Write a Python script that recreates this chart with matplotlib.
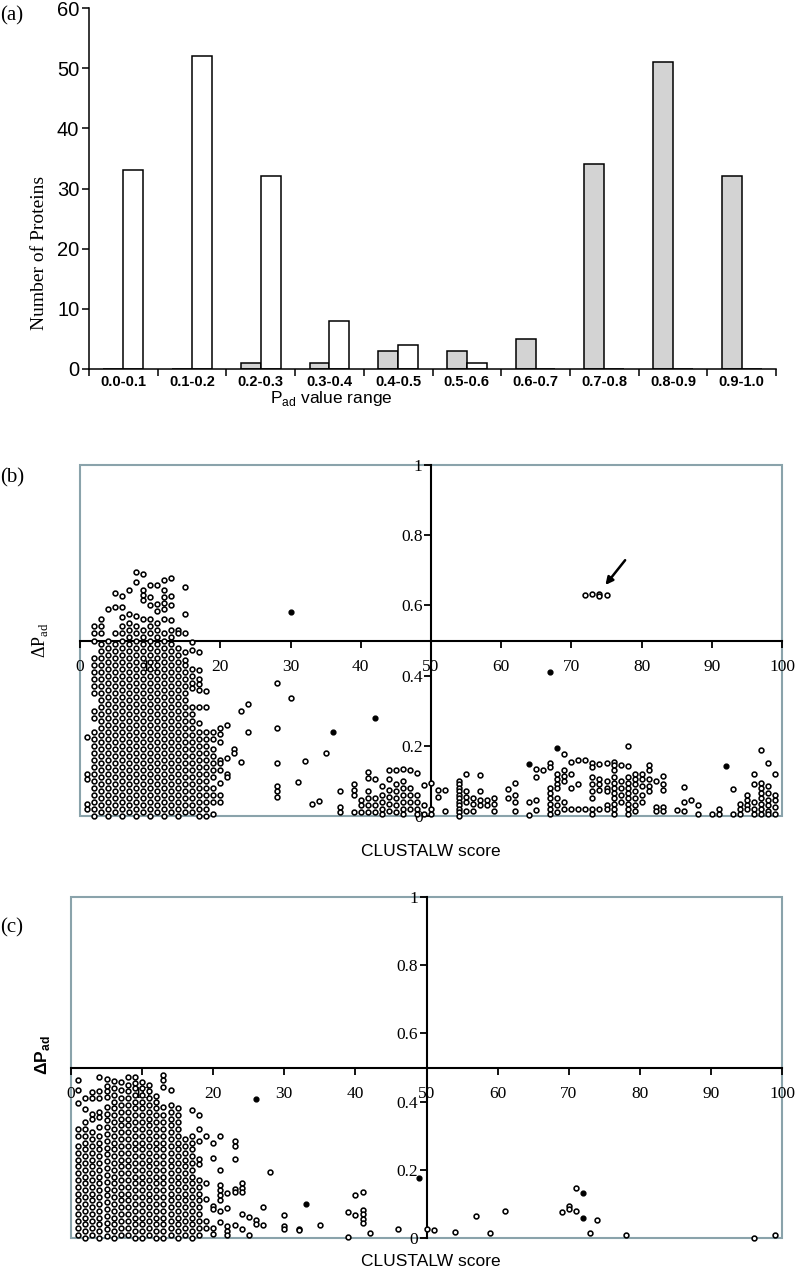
import matplotlib

matplotlib.use("Agg")
import matplotlib.pyplot as plt
from matplotlib.patches import Rectangle

plt.rcParams["font.family"] = ["Liberation Serif", "DejaVu Serif"]
plt.rcParams["mathtext.fontset"] = "custom"
plt.rcParams["mathtext.rm"] = "Liberation Serif"
plt.rcParams["mathtext.sf"] = "Liberation Sans"
plt.rcParams["mathtext.bf"] = "Liberation Sans:bold"

SANS = ["Liberation Sans", "DejaVu Sans"]
BOX_COLOUR = "#8aa3ab"
FIG_W, FIG_H = 798, 1280

# ---- panel (a): histogram of P_ad values ----
pad_ranges = ["0.0-0.1", "0.1-0.2", "0.2-0.3", "0.3-0.4", "0.4-0.5",
              "0.5-0.6", "0.6-0.7", "0.7-0.8", "0.8-0.9", "0.9-1.0"]
grey_counts = [0, 0, 1, 1, 3, 3, 5, 34, 51, 32]
white_counts = [33, 52, 32, 8, 4, 1, 0, 0, 0, 0]

# ---- panel (b): CLUSTALW score vs delta P_ad ----
b_scores = [1, 2, 3, 4, 5, 6, 7, 8, 9, 10, 11, 12, 13, 14, 15, 16, 17, 18, 19, 20,
            21, 22, 23, 24, 28, 30, 31, 32, 33, 34, 35, 37, 39, 40, 41, 42, 43, 44,
            45, 46, 47, 48, 49, 50, 51, 52, 54, 55, 56, 57, 58, 59, 61, 62, 64, 65,
            66, 67, 68, 69, 70, 71, 72, 73, 74, 75, 76, 77, 78, 79, 80, 81, 82, 83,
            85, 86, 87, 88, 90, 91, 93, 94, 95, 96, 97, 98, 99]
b_deltas = [
    [0.225, 0.12, 0.105, 0.035, 0.02],
    [0.54, 0.52, 0.50, 0.45, 0.43, 0.41, 0.39, 0.37, 0.35, 0.30, 0.28, 0.24, 0.22, 0.20,
     0.18, 0.16, 0.14, 0.12, 0.10, 0.08, 0.06, 0.04, 0.02, 0.00],
    [0.56, 0.54, 0.52, 0.49, 0.47, 0.45, 0.43, 0.41, 0.39, 0.37, 0.35, 0.33, 0.31, 0.29,
     0.27, 0.25, 0.23, 0.21, 0.19, 0.17, 0.15, 0.13, 0.11, 0.09, 0.07, 0.05, 0.03, 0.01],
    [0.59, 0.50, 0.48, 0.46, 0.44, 0.42, 0.40, 0.38, 0.36, 0.34, 0.32, 0.30, 0.28, 0.26,
     0.24, 0.22, 0.20, 0.18, 0.16, 0.14, 0.12, 0.10, 0.08, 0.06, 0.04, 0.02, 0.00],
    [0.635, 0.595, 0.52, 0.49, 0.47, 0.45, 0.43, 0.41, 0.39, 0.37, 0.35, 0.33, 0.31, 0.29,
     0.27, 0.25, 0.23, 0.21, 0.19, 0.17, 0.15, 0.13, 0.11, 0.09, 0.07, 0.05, 0.03, 0.01],
    [0.627, 0.595, 0.567, 0.54, 0.52, 0.50, 0.48, 0.46, 0.44, 0.42, 0.40, 0.38, 0.36, 0.34,
     0.32, 0.30, 0.28, 0.26, 0.24, 0.22, 0.20, 0.18, 0.16, 0.14, 0.12, 0.10, 0.08, 0.06,
     0.04, 0.02, 0.00],
    [0.645, 0.575, 0.55, 0.53, 0.51, 0.49, 0.47, 0.45, 0.43, 0.41, 0.39, 0.37, 0.35, 0.33,
     0.31, 0.29, 0.27, 0.25, 0.23, 0.21, 0.19, 0.17, 0.15, 0.13, 0.11, 0.09, 0.07, 0.05,
     0.03, 0.01],
    [0.695, 0.667, 0.57, 0.54, 0.52, 0.50, 0.48, 0.46, 0.44, 0.42, 0.40, 0.38, 0.36, 0.34,
     0.32, 0.30, 0.28, 0.26, 0.24, 0.22, 0.20, 0.18, 0.16, 0.14, 0.12, 0.10, 0.08, 0.06,
     0.04, 0.02, 0.00],
    [0.69, 0.645, 0.63, 0.615, 0.56, 0.53, 0.51, 0.49, 0.47, 0.45, 0.43, 0.41, 0.39, 0.37,
     0.35, 0.33, 0.31, 0.29, 0.27, 0.25, 0.23, 0.21, 0.19, 0.17, 0.15, 0.13, 0.11, 0.09,
     0.07, 0.05, 0.03, 0.01],
    [0.658, 0.624, 0.60, 0.56, 0.54, 0.52, 0.50, 0.48, 0.46, 0.44, 0.42, 0.40, 0.38, 0.36,
     0.34, 0.32, 0.30, 0.28, 0.26, 0.24, 0.22, 0.20, 0.18, 0.16, 0.14, 0.12, 0.10, 0.08,
     0.06, 0.04, 0.02, 0.00],
    [0.658, 0.603, 0.585, 0.55, 0.53, 0.51, 0.49, 0.47, 0.45, 0.43, 0.41, 0.39, 0.37, 0.35,
     0.33, 0.31, 0.29, 0.27, 0.25, 0.23, 0.21, 0.19, 0.17, 0.15, 0.13, 0.11, 0.09, 0.07,
     0.05, 0.03, 0.01],
    [0.672, 0.644, 0.624, 0.607, 0.59, 0.56, 0.52, 0.50, 0.48, 0.46, 0.44, 0.42, 0.40, 0.38,
     0.36, 0.34, 0.32, 0.30, 0.28, 0.26, 0.24, 0.22, 0.20, 0.18, 0.16, 0.14, 0.12, 0.10,
     0.08, 0.06, 0.04, 0.02, 0.00],
    [0.678, 0.627, 0.60, 0.558, 0.53, 0.51, 0.49, 0.47, 0.45, 0.43, 0.41, 0.39, 0.37, 0.35,
     0.33, 0.31, 0.29, 0.27, 0.25, 0.23, 0.21, 0.19, 0.17, 0.15, 0.13, 0.11, 0.09, 0.07,
     0.05, 0.03, 0.01],
    [0.53, 0.52, 0.48, 0.46, 0.44, 0.42, 0.40, 0.38, 0.36, 0.34, 0.32, 0.30, 0.28, 0.26,
     0.24, 0.22, 0.20, 0.18, 0.16, 0.14, 0.12, 0.10, 0.08, 0.06, 0.04, 0.02, 0.00],
    [0.652, 0.575, 0.52, 0.467, 0.445, 0.43, 0.41, 0.39, 0.37, 0.35, 0.33, 0.31, 0.29, 0.27,
     0.25, 0.23, 0.21, 0.19, 0.17, 0.15, 0.13, 0.11, 0.09, 0.07, 0.05, 0.03, 0.01],
    [0.496, 0.473, 0.42, 0.40, 0.38, 0.365, 0.31, 0.29, 0.27, 0.25, 0.23, 0.21, 0.19, 0.17,
     0.15, 0.13, 0.11, 0.09, 0.07, 0.05, 0.03, 0.01],
    [0.467, 0.415, 0.39, 0.375, 0.36, 0.31, 0.265, 0.24, 0.22, 0.20, 0.18, 0.16, 0.14, 0.12,
     0.10, 0.08, 0.06, 0.04, 0.02, 0.00],
    [0.356, 0.31, 0.24, 0.22, 0.20, 0.18, 0.16, 0.14, 0.12, 0.10, 0.08, 0.06, 0.04, 0.02,
     0.00],
    [0.24, 0.22, 0.19, 0.17, 0.15, 0.13, 0.11, 0.08, 0.06, 0.04, 0.005],
    [0.25, 0.235, 0.21, 0.16, 0.15, 0.13, 0.095, 0.06, 0.04],
    [0.26, 0.165, 0.12, 0.11],
    [0.19, 0.18],
    [0.30, 0.155],
    [0.32, 0.24],
    [0.38, 0.25, 0.15, 0.085, 0.07, 0.055],
    [0.335],
    [0.097],
    [0.157],
    [0.034],
    [0.043],
    [0.18],
    [0.07, 0.025, 0.01],
    [0.09, 0.075, 0.06, 0.01],
    [0.045, 0.03, 0.01],
    [0.125, 0.108, 0.07, 0.05, 0.03, 0.01],
    [0.105, 0.05, 0.03, 0.01],
    [0.085, 0.06, 0.04, 0.02, 0.005],
    [0.13, 0.105, 0.075, 0.055, 0.035, 0.015],
    [0.13, 0.09, 0.07, 0.05, 0.03, 0.01],
    [0.134, 0.10, 0.08, 0.06, 0.04, 0.02, 0.005],
    [0.13, 0.08, 0.06, 0.04, 0.02],
    [0.122, 0.06, 0.04, 0.02, 0.005],
    [0.088, 0.03, 0.005],
    [0.093, 0.02, 0.005],
    [0.074, 0.055],
    [0.074, 0.015],
    [0.10, 0.09, 0.08, 0.07, 0.06, 0.05, 0.04, 0.03, 0.02, 0.01, 0.00],
    [0.12, 0.07, 0.055, 0.04, 0.015],
    [0.05, 0.035, 0.015],
    [0.118, 0.07, 0.045, 0.03],
    [0.045, 0.03],
    [0.05, 0.035, 0.015],
    [0.078, 0.05],
    [0.093, 0.06, 0.04, 0.015],
    [0.04, 0.003],
    [0.135, 0.11, 0.046, 0.017],
    [0.13],
    [0.15, 0.14, 0.08, 0.065, 0.05, 0.035, 0.02, 0.005],
    [0.12, 0.105, 0.09, 0.08, 0.05, 0.03, 0.01],
    [0.178, 0.13, 0.115, 0.10, 0.04, 0.02],
    [0.155, 0.12, 0.08, 0.02],
    [0.16, 0.09, 0.02],
    [0.63, 0.16, 0.02],
    [0.632, 0.15, 0.14, 0.11, 0.09, 0.07, 0.05, 0.02, 0.005],
    [0.632, 0.626, 0.148, 0.105, 0.09, 0.075, 0.02],
    [0.63, 0.15, 0.10, 0.08, 0.07, 0.03, 0.02],
    [0.155, 0.145, 0.13, 0.11, 0.095, 0.08, 0.065, 0.05, 0.035, 0.02, 0.005],
    [0.145, 0.10, 0.08, 0.06, 0.04],
    [0.20, 0.143, 0.11, 0.095, 0.08, 0.065, 0.05, 0.035, 0.02, 0.005],
    [0.12, 0.105, 0.09, 0.07, 0.05, 0.03, 0.015],
    [0.12, 0.105, 0.085, 0.06, 0.04],
    [0.145, 0.13, 0.105, 0.085, 0.07],
    [0.10, 0.025, 0.015],
    [0.113, 0.09, 0.075, 0.025, 0.015],
    [0.016],
    [0.083, 0.04, 0.015],
    [0.045],
    [0.03, 0.005],
    [0.005],
    [0.02, 0.005],
    [0.076, 0.005],
    [0.035, 0.02, 0.005],
    [0.06, 0.045, 0.03, 0.02],
    [0.12, 0.09, 0.04, 0.02, 0.005],
    [0.188, 0.095, 0.08, 0.065, 0.05, 0.035, 0.02, 0.005],
    [0.15, 0.085, 0.065, 0.045, 0.03, 0.015, 0.005],
    [0.12, 0.06, 0.045, 0.025, 0.005],
]
b_dot_scores = [30, 36, 42, 64, 67, 68, 92]
b_dot_deltas = [0.58, 0.24, 0.28, 0.148, 0.41, 0.193, 0.143]

# ---- panel (c) ----
c_scores = [1, 2, 3, 4, 5, 6, 7, 8, 9, 10, 11, 12, 13, 14, 15, 16, 17, 18, 19, 20,
            21, 22, 23, 24, 25, 26, 27, 28, 30, 32, 35, 39, 40, 41, 42, 46, 50, 51,
            54, 57, 59, 61, 69, 70, 71, 73, 74, 78, 96, 99]
c_deltas = [
    [0.463, 0.434, 0.395, 0.32, 0.30, 0.27, 0.25, 0.23, 0.21, 0.19, 0.17, 0.15, 0.13, 0.11,
     0.09, 0.07, 0.05, 0.03, 0.01],
    [0.41, 0.377, 0.34, 0.32, 0.30, 0.28, 0.26, 0.24, 0.22, 0.20, 0.18, 0.16, 0.14, 0.12,
     0.10, 0.08, 0.06, 0.04, 0.02, 0.00],
    [0.428, 0.41, 0.365, 0.35, 0.31, 0.29, 0.27, 0.25, 0.23, 0.21, 0.19, 0.17, 0.15, 0.13,
     0.11, 0.09, 0.07, 0.05, 0.03, 0.01],
    [0.473, 0.43, 0.41, 0.37, 0.355, 0.325, 0.30, 0.28, 0.26, 0.24, 0.22, 0.20, 0.18, 0.16,
     0.14, 0.12, 0.10, 0.08, 0.06, 0.04, 0.02, 0.00],
    [0.467, 0.447, 0.43, 0.413, 0.383, 0.365, 0.345, 0.325, 0.305, 0.285, 0.265, 0.245,
     0.225, 0.205, 0.185, 0.165, 0.145, 0.125, 0.105, 0.085, 0.065, 0.045, 0.025, 0.005],
    [0.46, 0.44, 0.42, 0.40, 0.38, 0.36, 0.34, 0.32, 0.30, 0.28, 0.26, 0.24, 0.22, 0.20,
     0.18, 0.16, 0.14, 0.12, 0.10, 0.08, 0.06, 0.04, 0.02, 0.00],
    [0.457, 0.433, 0.41, 0.39, 0.37, 0.35, 0.33, 0.31, 0.29, 0.27, 0.25, 0.23, 0.21, 0.19,
     0.17, 0.15, 0.13, 0.11, 0.09, 0.07, 0.05, 0.03, 0.01],
    [0.473, 0.45, 0.43, 0.41, 0.39, 0.37, 0.35, 0.33, 0.31, 0.29, 0.27, 0.25, 0.23, 0.21,
     0.19, 0.17, 0.15, 0.13, 0.11, 0.09, 0.07, 0.05, 0.03, 0.01],
    [0.473, 0.455, 0.44, 0.42, 0.40, 0.38, 0.36, 0.34, 0.32, 0.30, 0.28, 0.26, 0.24, 0.22,
     0.20, 0.18, 0.16, 0.14, 0.12, 0.10, 0.08, 0.06, 0.04, 0.02, 0.00],
    [0.457, 0.44, 0.42, 0.40, 0.38, 0.36, 0.34, 0.32, 0.30, 0.28, 0.26, 0.24, 0.22, 0.20,
     0.18, 0.16, 0.14, 0.12, 0.10, 0.08, 0.06, 0.04, 0.02, 0.00],
    [0.45, 0.43, 0.41, 0.39, 0.37, 0.35, 0.33, 0.31, 0.29, 0.27, 0.25, 0.23, 0.21, 0.19,
     0.17, 0.15, 0.13, 0.11, 0.09, 0.07, 0.05, 0.03, 0.01],
    [0.417, 0.40, 0.38, 0.36, 0.34, 0.32, 0.30, 0.28, 0.26, 0.24, 0.22, 0.20, 0.18, 0.16,
     0.14, 0.12, 0.10, 0.08, 0.06, 0.04, 0.02, 0.00],
    [0.478, 0.463, 0.443, 0.383, 0.36, 0.34, 0.32, 0.30, 0.28, 0.26, 0.24, 0.22, 0.20, 0.18,
     0.16, 0.14, 0.12, 0.10, 0.08, 0.06, 0.04, 0.02, 0.00],
    [0.433, 0.39, 0.37, 0.35, 0.33, 0.31, 0.29, 0.27, 0.25, 0.23, 0.21, 0.19, 0.17, 0.15,
     0.13, 0.11, 0.09, 0.07, 0.05, 0.03, 0.01],
    [0.38, 0.36, 0.34, 0.32, 0.30, 0.28, 0.26, 0.24, 0.22, 0.20, 0.18, 0.16, 0.14, 0.12,
     0.10, 0.08, 0.06, 0.04, 0.02, 0.00],
    [0.29, 0.27, 0.25, 0.23, 0.21, 0.19, 0.17, 0.15, 0.13, 0.11, 0.09, 0.07, 0.05, 0.03,
     0.01],
    [0.375, 0.30, 0.28, 0.26, 0.24, 0.22, 0.20, 0.18, 0.16, 0.14, 0.12, 0.10, 0.08, 0.06,
     0.04, 0.02, 0.00],
    [0.362, 0.32, 0.283, 0.233, 0.218, 0.17, 0.15, 0.13, 0.11, 0.09, 0.07, 0.05, 0.03, 0.01],
    [0.30, 0.16, 0.115, 0.05, 0.03],
    [0.28, 0.235, 0.095, 0.086, 0.03, 0.013],
    [0.30, 0.20, 0.155, 0.14, 0.125, 0.11, 0.08, 0.047],
    [0.133, 0.088, 0.034, 0.02, 0.008],
    [0.283, 0.27, 0.232, 0.145, 0.135, 0.037],
    [0.16, 0.148, 0.135, 0.07, 0.027],
    [0.062, 0.008],
    [0.052, 0.042],
    [0.09, 0.037],
    [0.193],
    [0.067, 0.034, 0.025],
    [0.027, 0.022],
    [0.037],
    [0.076, 0.003],
    [0.126, 0.067],
    [0.136, 0.083, 0.07, 0.057, 0.044],
    [0.016],
    [0.026],
    [0.025],
    [0.024],
    [0.018],
    [0.065],
    [0.015],
    [0.08],
    [0.075],
    [0.093, 0.085],
    [0.148, 0.08],
    [0.015],
    [0.052],
    [0.008],
    [0.001],
    [0.008],
]
c_dot_scores = [26, 33, 49, 72, 72]
c_dot_deltas = [0.407, 0.10, 0.177, 0.133, 0.058]

score_ticks = [0, 10, 20, 30, 40, 50, 60, 70, 80, 90, 100]
delta_ticks = [0, 0.2, 0.4, 0.6, 0.8, 1]
delta_tick_labels = ["0", "0.2", "0.4", "0.6", "0.8", "1"]


def axes_rect(left, top, right, bottom):
    return [left / FIG_W, 1 - bottom / FIG_H, (right - left) / FIG_W, (bottom - top) / FIG_H]


def draw_histogram(fig):
    ax = fig.add_axes(axes_rect(89, 8, 776, 369))
    positions = list(range(len(pad_ranges)))
    ax.bar([p - 0.29 for p in positions], grey_counts, width=0.29, align="edge",
           color="#d3d3d3", edgecolor="black", linewidth=1.1)
    ax.bar(positions, white_counts, width=0.29, align="edge",
           color="white", edgecolor="black", linewidth=1.1)

    ax.set_xlim(-0.5, len(pad_ranges) - 0.5)
    ax.set_ylim(0, 60)
    ax.spines[["top", "right"]].set_visible(False)
    for side in ("left", "bottom"):
        ax.spines[side].set_linewidth(1.1)

    ax.tick_params(axis="x", which="major", length=0, pad=4)
    ax.tick_params(axis="x", which="minor", length=5, width=1.1, direction="out")
    ax.tick_params(axis="y", length=5, width=1.1, direction="out", pad=2)
    ax.set_yticks(range(0, 61, 10), labels=[str(v) for v in range(0, 61, 10)],
                  family=SANS, fontsize=14.5)
    ax.set_xticks(positions, labels=pad_ranges, family=SANS, fontweight="bold",
                  fontsize=10.5)
    ax.set_xticks([p - 0.5 for p in positions] + [len(pad_ranges) - 0.5], minor=True)

    fig.text(40 / FIG_W, 1 - 253 / FIG_H, "Number of Proteins", rotation=90,
             ha="center", va="center", fontsize=14)
    fig.text(331 / FIG_W, 1 - 399 / FIG_H, r"$\mathsf{P}_{\mathsf{ad}}$ value range",
             ha="center", va="center", fontsize=12.5, family=SANS)
    fig.text(0, 1 - 16 / FIG_H, "(a)", ha="left", va="center", fontsize=15)


def draw_scatter(fig, rect, scores, deltas, dot_scores, dot_deltas):
    ax = fig.add_axes(rect)
    xs = [s for s, col in zip(scores, deltas) for _ in col]
    ys = [v for col in deltas for v in col]
    ax.scatter(xs, ys, s=12, facecolors="white", edgecolors="black",
               linewidths=1.15, clip_on=False, zorder=3)
    ax.scatter(dot_scores, dot_deltas, s=12, color="black", clip_on=False, zorder=3)

    ax.set_xlim(0, 100)
    ax.set_ylim(0, 1)
    ax.add_patch(Rectangle((0, 0), 1, 1, transform=ax.transAxes, fill=False,
                           edgecolor=BOX_COLOUR, linewidth=1.5, zorder=1, clip_on=False))
    ax.spines[["top", "right"]].set_visible(False)
    ax.spines["left"].set_position(("data", 50))
    ax.spines["bottom"].set_position(("data", 0.5))
    for side in ("left", "bottom"):
        ax.spines[side].set_linewidth(1.5)

    ax.tick_params(axis="x", length=5, width=1.3, direction="out", pad=8)
    ax.tick_params(axis="y", length=5, width=1.3, direction="out", pad=1)
    ax.set_xticks(score_ticks, labels=[str(t) for t in score_ticks], fontsize=12.5)
    ax.set_yticks(delta_ticks, labels=delta_tick_labels, fontsize=12.5)
    return ax


def main() -> None:
    fig = plt.figure(figsize=(FIG_W / 100, FIG_H / 100), dpi=100)

    draw_histogram(fig)

    ax_b = draw_scatter(fig, axes_rect(80, 465, 782, 816), b_scores, b_deltas,
                        b_dot_scores, b_dot_deltas)
    ax_b.annotate("", xy=(74.6, 0.652), xytext=(77.9, 0.735),
                  arrowprops=dict(arrowstyle="-|>", color="black", lw=1.8,
                                  mutation_scale=11))
    fig.text(0, 1 - 478 / FIG_H, "(b)", ha="left", va="center", fontsize=15)
    fig.text(40 / FIG_W, 1 - 640 / FIG_H, r"$\mathrm{ΔP}_{\mathrm{ad}}$", rotation=90,
             ha="center", va="center", fontsize=13)
    fig.text(431 / FIG_W, 1 - 851 / FIG_H, "CLUSTALW score", ha="center", va="center",
             fontsize=12.5, family=SANS)

    draw_scatter(fig, axes_rect(71, 897, 782, 1238), c_scores, c_deltas,
                 c_dot_scores, c_dot_deltas)
    fig.text(0, 1 - 928 / FIG_H, "(c)", ha="left", va="center", fontsize=15)
    fig.text(42 / FIG_W, 1 - 1055 / FIG_H, r"$\mathbf{ΔP}_{\mathbf{ad}}$", rotation=90,
             ha="center", va="center", fontsize=12.5)
    fig.text(431 / FIG_W, 1 - 1262 / FIG_H, "CLUSTALW score", ha="center", va="center",
             fontsize=12.5, family=SANS)

    fig.savefig("out.png", dpi=100)


if __name__ == "__main__":
    main()
